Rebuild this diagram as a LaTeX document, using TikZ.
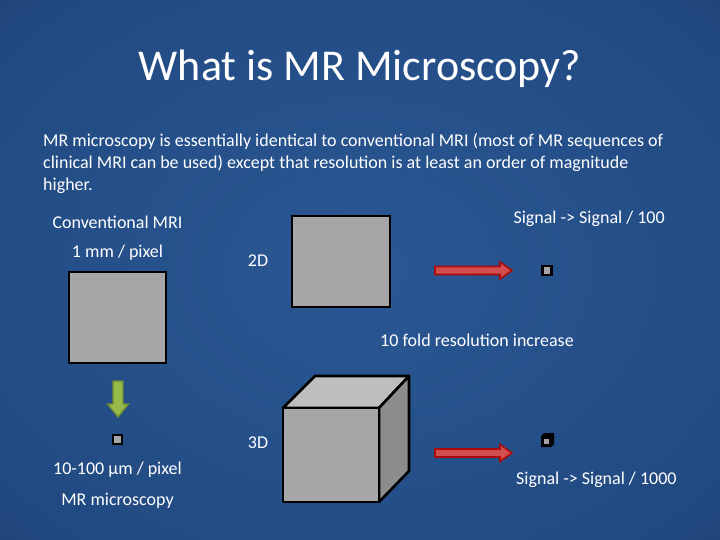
\documentclass[tikz,border=0pt]{standalone}
\usepackage{fontspec}
\setmainfont{Carlito}
\usetikzlibrary{calc}
\definecolor{bgin}{RGB}{42,88,148}
\definecolor{bgmid}{RGB}{34,74,130}
\definecolor{bgout}{RGB}{20,42,80}
\definecolor{boxgray}{RGB}{166,166,166}
\definecolor{topgray}{RGB}{190,190,190}
\definecolor{sidegray}{RGB}{140,140,140}
\definecolor{arrred}{RGB}{210,78,78}
\definecolor{arrredd}{RGB}{170,12,12}
\definecolor{arrgrn}{RGB}{152,186,72}
\definecolor{arrgrnd}{RGB}{108,138,48}
\pgfdeclareradialshading{slidebg}{\pgfpoint{0bp}{0bp}}{color(0bp)=(bgin); color(30bp)=(bgmid); color(72bp)=(bgout)}
\tikzset{
  lbl/.style={text=white, font=\fontsize{18}{22}\selectfont, inner sep=0pt},
  graybox/.style={fill=boxgray, draw=black, line width=2.6pt},
  pix/.style={fill=boxgray, draw=black, line width=2.4pt},
  redarrow/.style={fill=arrred, draw=arrredd, line width=1.6pt, line join=miter},
  grnarrow/.style={fill=arrgrn, draw=arrgrnd, line width=1.4pt, line join=miter}
}
\begin{document}
\begin{tikzpicture}[x=1pt,y=-1pt]
\useasboundingbox (0,0) rectangle (720,540);
\path[shading=slidebg] (0,0) rectangle (720,540);

% title
\node[text=white, font=\fontsize{44}{52}\selectfont, inner sep=0pt, anchor=base] (title) at (360,81) {What is MR Microscopy?};

% body
\node[text=white, font=\fontsize{18}{22}\selectfont, inner sep=0pt, anchor=base west, align=left] (body1) at (43,147) {MR microscopy is essentially identical to conventional MRI (most of MR sequences of};
\node[text=white, font=\fontsize{18}{22}\selectfont, inner sep=0pt, anchor=base west, align=left] (body2) at (43,169) {clinical MRI can be used) except that resolution is at least an order of magnitude};
\node[text=white, font=\fontsize{18}{22}\selectfont, inner sep=0pt, anchor=base west, align=left] (body3) at (43,191) {higher.};

% left column
\node[lbl, anchor=base] (conv) at (117.5,228.5) {Conventional MRI};
\node[lbl, anchor=base] (mm) at (117.5,257.5) {1 mm / pixel};
\path[graybox] (69,272) rectangle (166,363);

% green arrow
\path[grnarrow] (113,381) -- (123,381) -- (123,404) -- (128.5,404) -- (118,417) -- (107.5,404) -- (113,404) -- cycle;

\node[pix, minimum size=9pt, inner sep=0pt] (pixL) at (117.5,439.5) {};
\node[lbl, anchor=base] (um) at (117.5,474) {10-100 µm / pixel};
\node[lbl, anchor=base] (micro) at (117.5,505) {MR microscopy};

% 2D
\node[lbl, anchor=base] (twoD) at (258,266) {2D};
\path[graybox] (292,216) rectangle (390,307);
\path[redarrow] (435,266.5) -- (500,266.5) -- (500,262) -- (512,270.5) -- (500,279) -- (500,274.5) -- (435,274.5) -- cycle;
\node[pix, minimum size=9pt, inner sep=0pt] (pix2) at (547,270.5) {};
\node[lbl, anchor=base east] (sig100) at (665,224) {Signal -> Signal / 100};

\node[lbl, anchor=base] (fold) at (477,346) {10 fold resolution increase};

% 3D
\node[lbl, anchor=base] (threeD) at (258,448) {3D};
\path[fill=topgray, draw=black, line width=2.6pt, line join=round] (283,408) -- (315,376) -- (409,376) -- (379,408) -- cycle;
\path[fill=sidegray, draw=black, line width=2.6pt, line join=round] (379,408) -- (409,376) -- (409,471) -- (379,502) -- cycle;
\path[graybox, line join=round] (283,408) rectangle (379,502);

\path[redarrow] (435,449) -- (500,449) -- (500,444.5) -- (512,453) -- (500,461.5) -- (500,457) -- (435,457) -- cycle;
% small cube
\path[fill=black] (541,436) -- (544,433) -- (554,433) -- (554,444) -- (551,447) -- (541,447) -- cycle;
\node[fill=boxgray, minimum size=5pt, inner sep=0pt] (pix3) at (546,441.5) {};
\node[lbl, anchor=base west] (sig1000) at (516,484) {Signal -> Signal / 1000};
\end{tikzpicture}
\end{document}
